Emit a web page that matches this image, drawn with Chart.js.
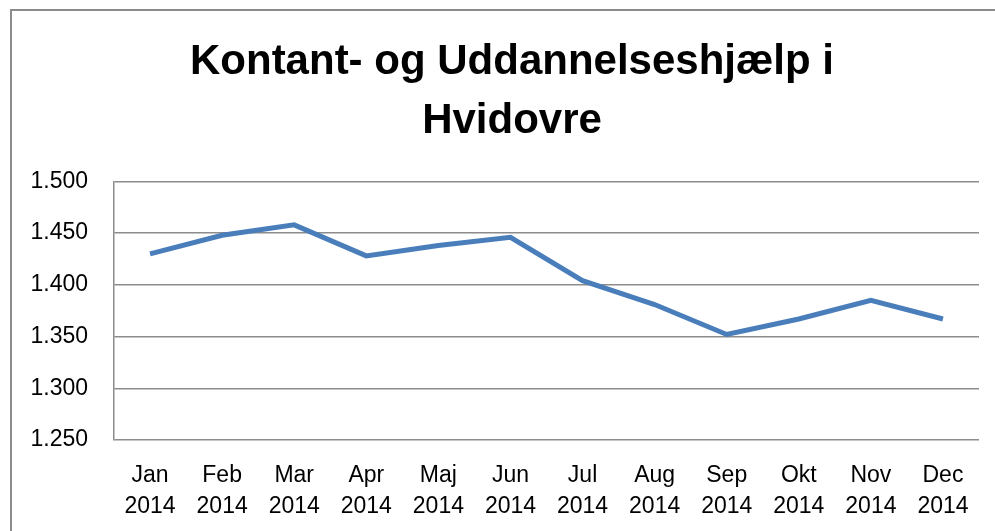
<!DOCTYPE html>
<html>
<head>
<meta charset="utf-8">
<script src="https://cdn.jsdelivr.net/npm/chart.js@4"></script>
<style>
  html, body { margin: 0; padding: 0; background: #fff; overflow: hidden; }
  #box {
    position: absolute; left: 10px; top: 9px;
    width: 1004px; height: 545px;
    border: 2px solid #8c8c8c; box-sizing: border-box;
  }
  #chart { display: block; }
</style>
</head>
<body>
<div id="box"><canvas id="chart" width="1000" height="541"></canvas></div>
<script>
const months = ["Jan", "Feb", "Mar", "Apr", "Maj", "Jun", "Jul", "Aug", "Sep", "Okt", "Nov", "Dec"];
const year = "2014";
const values = [1430, 1448, 1458, 1428, 1438, 1446, 1404, 1381, 1352, 1367, 1385, 1367];
const yMin = 1250;
const yMax = 1500;
const yStep = 50;
const titleLines = ["Kontant- og Uddannelseshjælp i", "Hvidovre"];

const labels = months.map(m => [m, year]);

// dansk tusindtalsseparator: 1500 -> "1.500"
function fmt(v) {
  const s = String(Math.round(v));
  return s.replace(/\B(?=(\d{3})+(?!\d))/g, ".");
}

const gridColor = "#8c8c8c";

new Chart(document.getElementById("chart"), {
  type: "line",
  data: {
    labels: labels,
    datasets: [{
      data: values,
      borderColor: "#4a7ebb",
      borderWidth: 5,
      pointRadius: 0,
      tension: 0,
      fill: false,
    }],
  },
  options: {
    responsive: false,
    animation: false,
    layout: { padding: { left: 0, right: 0, top: 22, bottom: 0 } },
    plugins: {
      legend: { display: false },
      tooltip: { enabled: false },
      title: {
        display: true,
        text: titleLines,
        color: "#000",
        font: { family: "Liberation Sans", size: 42, weight: "bold", lineHeight: 1.41 },
        padding: { top: 0, bottom: 30 },
      },
    },
    scales: {
      x: {
        offset: true,
        grid: { display: false, drawTicks: false },
        border: { display: false },
        ticks: {
          color: "#000",
          padding: 20,
          maxRotation: 0,
          autoSkip: false,
          font: { family: "Liberation Sans", size: 23, lineHeight: 1.35 },
        },
        afterFit: (s) => { s.height = 112; },
      },
      y: {
        min: yMin,
        max: yMax,
        grid: { color: gridColor, lineWidth: 1.5, drawTicks: false },
        border: { display: true, color: gridColor, width: 1.5 },
        ticks: {
          stepSize: yStep,
          color: "#000",
          padding: 26,
          font: { family: "Liberation Sans", size: 23 },
          callback: (v) => fmt(v),
        },
        afterFit: (s) => { s.width = 102; },
      },
      // empty right axis: only reserves the white strip right of the plot
      yRight: {
        position: "right",
        min: yMin,
        max: yMax,
        grid: { display: false },
        border: { display: false },
        ticks: { display: false },
        afterFit: (s) => { s.width = 33; },
      },
    },
  },
});
</script>
</body>
</html>
